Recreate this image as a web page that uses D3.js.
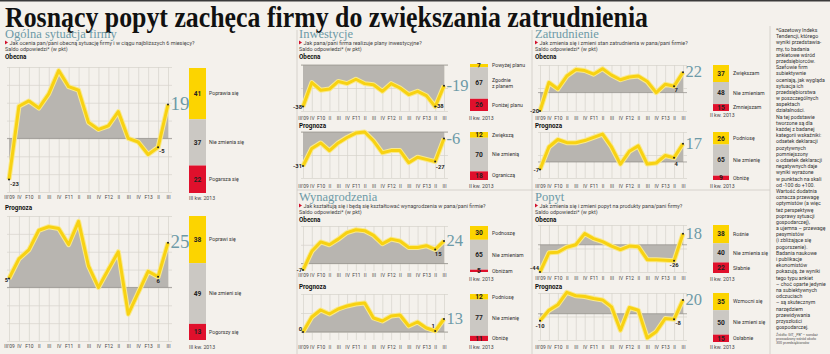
<!DOCTYPE html>
<html><head><meta charset="utf-8">
<script src="https://cdn.jsdelivr.net/npm/d3@7/dist/d3.min.js"></script>
<style>body{margin:0;background:#f4f1ec}svg{display:block}</style>
</head><body><svg id="c" width="830" height="354"></svg>
<script>
// ---------- DATA ----------
const quarters = ["III'09","IV","F10","II","III","IV","F11","II","III","IV","F12","II","III","IV","F13","II","III"];

const ogolnaObecna       = [-23,18,21,17,25,38,29,27,9,5,7,15,0,-2,-9,-5,19];
const ogolnaPrognoza     = [5,16,21,32,34,33,24,37,12,0,10,20,-15,-3,9,6,25];
const inwestycjeObecna   = [-38,-16,-23,-22,-15,-17,-13,-17,-18,-24,-17,-21,-27,-24,-28,-38,-19];
const inwestycjePrognoza = [-31,-15,-10,-17,-10,-5,-1,0,-8,-19,-17,-17,-28,-23,-25,-27,-6];
const wynagrodzeniaObecna   = [-7,13,23,20,26,33,36,35,30,21,26,24,17,17,19,15,24];
const wynagrodzeniaPrognoza = [0,15,22,18,23,26,28,29,14,11,16,17,6,10,4,1,13];
const zatrudnienieObecna    = [-20,11,4,18,25,24,20,26,19,14,17,18,12,0,9,7,22];
const zatrudnieniePrognoza  = [-7,14,21,18,18,20,23,26,14,-2,10,15,-2,-1,6,4,17];
const popytObecna   = [-44,-13,-12,-4,0,18,10,5,-2,-8,-2,-3,-24,-24,-25,-26,18];
const popytPrognoza = [-10,5,13,31,26,25,22,20,10,-24,9,5,-35,-26,-7,-8,20];

const ogolnaObecnaBar = [41,37,22];
const ogolnaObecnaLabels = ["Poprawia się","Nie zmienia się","Pogarsza się"];
const ogolnaPrognozaBar = [38,49,13];
const ogolnaPrognozaLabels = ["Poprawi się","Nie zmieni się","Pogorszy się"];
const inwestycjeObecnaBar = [7,67,26];
const inwestycjeObecnaLabels = ["Powyżej planu","Zgodnie\nz planem","Poniżej planu"];
const inwestycjePrognozaBar = [12,70,18];
const inwestycjePrognozaLabels = ["Zwiększą","Nie zmienią","Ograniczą"];
const wynagrodzeniaObecnaBar = [30,65,5];
const wynagrodzeniaObecnaLabels = ["Podnoszę","Nie zmieniam","Obniżam"];
const wynagrodzeniaPrognozaBar = [12,77,11];
const wynagrodzeniaPrognozaLabels = ["Podniosę","Nie zmienię","Obniżę"];
const zatrudnienieObecnaBar = [37,48,15];
const zatrudnienieObecnaLabels = ["Zwiększam","Nie zmieniam","Zmniejszam"];
const zatrudnieniePrognozaBar = [26,65,9];
const zatrudnieniePrognozaLabels = ["Podniosę","Nie zmienię","Obniżę"];
const popytObecnaBar = [38,40,22];
const popytObecnaLabels = ["Rośnie","Nie zmienia się","Słabnie"];
const popytPrognozaBar = [35,50,15];
const popytPrognozaLabels = ["Wzmocni się","Nie zmieni się","Osłabnie"];

const title = "Rosnący popyt zachęca firmy do zwiększania zatrudnienia";
const noteLines = ["*Gazetowy Indeks","Tendencji, którego","wyniki przedstawia-","my, to badania","ankietowe wśród","przedsiębiorców.","Szefowie firm","subiektywnie","oceniają, jak wygląda","sytuacja ich","przedsiębiorstwa","w poszczególnych","aspektach","działalności.","Na tej podstawie","tworzone są dla","każdej z badanej","kategorii wskaźniki:","odsetek deklaracji","pozytywnych","pomniejszony","o odsetek deklaracji","negatywnych daje","wyniki wyrażone","w punktach na skali","od -100 do +100.","Wartość dodatnia","oznacza przewagę","optymistów (a więc","też perspektywę","poprawy sytuacji","gospodarczej),","a ujemna – przewagę","pesymistów","(i zbliżające się","pogorszenie).","Badania naukowe","i publikacje","ekonomistów","pokazują, że wyniki","tego typu ankiet","– choć oparte jedynie","na subiektywnych","odczuciach","– są skutecznym","narzędziem","przewidywania","przyszłości","gospodarczej."];
const sourceLines = ["Źródło: GIT, „PB” – sondaż","prowadzony wśród około","300 przedsiębiorców"];

// ---------- STYLE ----------
const BG="#f4f1ec", TEAL="#6d9aa7", YEL="#f8d212", HALO="#f9e98c", AREA="#b8b5b0",
      GRID="#d6d2cc", ZERO="#8f8c87", BARY="#fcd400", BARG="#cbc8c3", BARR="#e0102c",
      SANS="Roboto, 'Open Sans', sans-serif", SERIF="'Liberation Serif', 'DejaVu Serif', serif";

const svg = d3.select("#c");
svg.append("rect").attr("width",830).attr("height",354).attr("fill",BG);
svg.append("rect").attr("width",830).attr("height",1.5).attr("fill","#3a3a3a");

svg.append("text").text(title).attr("x",5).attr("y",26.5)
  .attr("font-family",SERIF).attr("font-weight","bold").attr("font-size",29)
  .attr("textLength",643).attr("lengthAdjust","spacingAndGlyphs").attr("fill","#111");

[[297,30,354],[532,30,354],[770,26,354]].forEach(([x,a,b])=>
  svg.append("line").attr("x1",x).attr("x2",x).attr("y1",a).attr("y2",b).attr("stroke","#cfcbc5").attr("stroke-width",0.8));
[[297,532],[532,770]].forEach(([a,b])=>
  svg.append("line").attr("x1",a).attr("x2",b).attr("y1",190).attr("y2",190).attr("stroke","#cfcbc5").attr("stroke-width",0.8));

function header(x, ty, name, question){
  svg.append("text").text(name).attr("x",x).attr("y",ty).attr("font-family",SERIF)
    .attr("font-size",12.5).attr("fill",TEAL);
  svg.append("path").attr("d",`M${x},${ty+3}L${x+3},${ty+5}L${x},${ty+7}Z`).attr("fill","#d2102b");
  svg.append("text").text(question).attr("x",x+4.5).attr("y",ty+7.2).attr("font-family",SANS)
    .attr("font-size",5.4).attr("fill","#444");
  svg.append("text").text("Saldo odpowiedzi* (w pkt)").attr("x",x).attr("y",ty+13.2).attr("font-family",SANS)
    .attr("font-size",5.4).attr("fill","#444");
}
function sub(x,y,t){
  svg.append("text").text(t).attr("x",x).attr("y",y).attr("font-family",SANS)
    .attr("font-weight","bold").attr("font-size",6.3).attr("fill","#111");
}

function chart(c){
  const g = svg.append("g");
  const x = d3.scalePoint().domain(d3.range(c.values.length)).range([c.x0,c.x1]);
  const y = d3.scaleLinear().domain(c.domain).range([c.yBottom,c.yTop]);
  const vg = g.append("g").attr("transform",`translate(0,${c.yBottom})`)
    .call(d3.axisBottom(x).tickSize(-(c.yBottom-c.yTop)).tickFormat(""));
  vg.select(".domain").remove();
  vg.selectAll("line").attr("stroke",GRID).attr("stroke-width",0.7);
  const hg = g.append("g").attr("transform",`translate(${c.x0-2},0)`)
    .call(d3.axisLeft(y).tickValues(c.grid).tickSize(-(c.x1-c.x0+6)).tickFormat(""));
  hg.select(".domain").remove();
  hg.selectAll("line").attr("stroke",GRID).attr("stroke-width",0.7);
  g.append("path").datum(c.values)
    .attr("d", d3.area().x((d,i)=>x(i)).y0(y(0)).y1(d=>y(d)))
    .attr("fill",AREA);
  g.append("line").attr("x1",c.x0-2).attr("x2",c.x1+4).attr("y1",y(0)).attr("y2",y(0))
    .attr("stroke",ZERO).attr("stroke-width",0.7);
  const line = d3.line().x((d,i)=>x(i)).y(d=>y(d));
  g.append("path").datum(c.values).attr("d",line).attr("fill","none")
    .attr("stroke",HALO).attr("stroke-width",5).attr("stroke-linejoin","round");
  g.append("path").datum(c.values).attr("d",line).attr("fill","none")
    .attr("stroke",YEL).attr("stroke-width",3).attr("stroke-linejoin","round");
  const xa = g.append("g").attr("transform",`translate(0,${c.axisY})`)
    .call(d3.axisBottom(x).tickSize(0).tickPadding(0).tickFormat(i=>quarters[i]));
  xa.select(".domain").remove();
  xa.selectAll("text").attr("dy",0).attr("font-family",SANS).attr("font-size",4.9).attr("fill","#444");
  const n = c.values.length;
  [0,n-2,n-1].forEach(i=>g.append("circle").attr("cx",x(i)).attr("cy",y(c.values[i])).attr("r",1).attr("fill","#222"));
  const fl = c.first;
  g.append("text").text(c.values[0]).attr("x",x(0)+fl[0]).attr("y",y(c.values[0])+fl[1])
    .attr("text-anchor",fl[2]).attr("font-family",SANS).attr("font-weight","bold").attr("font-size",5.8).attr("fill","#222");
  const pl = c.prev;
  g.append("text").text(c.values[n-2]).attr("x",x(n-2)+pl[0]).attr("y",y(c.values[n-2])+pl[1])
    .attr("text-anchor",pl[2]).attr("font-family",SANS).attr("font-weight","bold").attr("font-size",5.8).attr("fill","#222");
  g.append("text").text(c.values[n-1]).attr("x",x(n-1)+2.5).attr("y",y(c.values[n-1])+c.big*0.3)
    .attr("font-family",SERIF).attr("font-size",c.big).attr("fill",TEAL);
  const by = d3.scaleLinear().domain([0,100]).range([c.bar[0],c.bar[1]]);
  let cum = 0;
  const cols=[BARY,BARG,BARR];
  c.barVals.forEach((v,k)=>{
    const y0 = by(cum), y1 = by(cum+v); cum+=v;
    g.append("rect").attr("x",c.barX).attr("y",y0).attr("width",c.barW).attr("height",y1-y0).attr("fill",cols[k]);
    const mid=(y0+y1)/2;
    g.append("text").text(v).attr("x",c.barX+c.barW/2).attr("y",mid+2.3).attr("text-anchor","middle")
      .attr("font-family",SANS).attr("font-weight","bold").attr("font-size",6.6).attr("fill","#222");
    const parts = c.barLabels[k].split("\n");
    const t = g.append("text").attr("font-family",SANS).attr("font-size",5.2).attr("fill","#333");
    parts.forEach((p,j)=>t.append("tspan").text(p).attr("x",c.labelX).attr("y",mid+1.8+(j-(parts.length-1)/2)*6));
  });
  g.append("text").text(c.date).attr("x",c.dateX).attr("y",c.dateY).attr("font-family",SANS)
    .attr("font-size",5.2).attr("fill","#444");
}

const L = {x0:9,x1:168,barX:189,barW:17,labelX:209,dateX:189,date:"III kw. 2013",big:19};
const M = {x0:303,x1:444,barX:470,barW:18,labelX:492,dateX:469,date:"II kw. 2013",big:16.5};
const R = {x0:540,x1:683,barX:713,barW:16,labelX:733,dateX:710,date:"II kw. 2013",big:16.5};
const g10 = d3.range(-30,41,10);

header(5,37.5,"Ogólna sytuacja firmy","Jak ocenia pan/pani obecną sytuację firmy i w ciągu najbliższych 6 miesięcy?");
sub(5,59,"Obecna"); sub(5,209.5,"Prognoza");
chart({...L,values:ogolnaObecna,domain:[-30,40],grid:g10,yTop:67,yBottom:192,axisY:198.5,
  bar:[68,193],barVals:ogolnaObecnaBar,barLabels:ogolnaObecnaLabels,dateY:200,
  first:[1,6,"start"],prev:[1,6,"start"]});
chart({...L,values:ogolnaPrognoza,domain:[-30,40],grid:g10,yTop:216,yBottom:341,axisY:347.5,
  bar:[216,340],barVals:ogolnaPrognozaBar,barLabels:ogolnaPrognozaLabels,dateY:349,
  first:[-1,3,"end"],prev:[0,6,"middle"]});

header(299,37.5,"Inwestycje","Jak pana/pani firma realizuje plany inwestycyjne?");
sub(299,59,"Obecna"); sub(299,128,"Prognoza");
chart({...M,values:inwestycjeObecna,domain:[-42,0],grid:[-42,-21,0],yTop:65,yBottom:111,axisY:120,
  bar:[64,111],barVals:inwestycjeObecnaBar,barLabels:inwestycjeObecnaLabels,dateY:120,
  first:[-1,2,"end"],prev:[4,1,"middle"]});
chart({...M,values:inwestycjePrognoza,domain:[-42,0],grid:[-42,-21,0],yTop:132,yBottom:178,axisY:188,
  bar:[132,180],barVals:inwestycjePrognozaBar,barLabels:inwestycjePrognozaLabels,dateY:188,
  first:[-1,2,"end"],prev:[5,7,"middle"]});

header(299,200.5,"Wynagrodzenia","Jak kształtują się i będą się kształtować wynagrodzenia w pana/pani firmie?");
sub(299,221.5,"Obecna"); sub(299,288.5,"Prognoza");
chart({...M,values:wynagrodzeniaObecna,domain:[-8,40],grid:[0,20,40],yTop:226,yBottom:271,axisY:276.5,
  bar:[226,272],barVals:wynagrodzeniaObecnaBar,barLabels:wynagrodzeniaObecnaLabels,dateY:281,
  first:[-1,2,"end"],prev:[3,7,"middle"]});
chart({...M,values:wynagrodzeniaPrognoza,domain:[-8,38],grid:[0,19,38],yTop:294,yBottom:340,axisY:349,
  bar:[294,341],barVals:wynagrodzeniaPrognozaBar,barLabels:wynagrodzeniaPrognozaLabels,dateY:349,
  first:[-1,-1,"end"],prev:[-2,-3,"middle"]});

header(535,37.5,"Zatrudnienie","Jak zmienia się i zmieni stan zatrudnienia w pana/pani firmie?");
sub(535,59,"Obecna"); sub(535,127.5,"Prognoza");
chart({...R,values:zatrudnienieObecna,domain:[-20,30],grid:[-20,5,30],yTop:65,yBottom:111,axisY:120,
  bar:[65,111],barVals:zatrudnienieObecnaBar,barLabels:zatrudnienieObecnaLabels,dateY:117,
  first:[-1,2,"end"],prev:[2,6,"middle"]});
chart({...R,values:zatrudnieniePrognoza,domain:[-15,28],grid:[-15,6.5,28],yTop:132,yBottom:178,axisY:188,
  bar:[132,180],barVals:zatrudnieniePrognozaBar,barLabels:zatrudnieniePrognozaLabels,dateY:188,
  first:[-1,3,"end"],prev:[2,8,"middle"]});

header(535,200.5,"Popyt","Jak zmienia się i zmieni popyt na produkty pana/pani firmy?");
sub(535,221.5,"Obecna"); sub(535,288.5,"Prognoza");
chart({...R,values:popytObecna,domain:[-44,32],grid:[-44,-6,32],yTop:225,yBottom:272,axisY:280,
  bar:[225,273],barVals:popytObecnaBar,barLabels:popytObecnaLabels,dateY:281,
  first:[-1,-2,"end"],prev:[0,6,"middle"]});
chart({...R,values:popytPrognoza,domain:[-38,30],grid:[-38,-4,30],yTop:293,yBottom:340,axisY:349,
  bar:[293,342],barVals:popytPrognozaBar,barLabels:popytPrognozaLabels,dateY:349,
  first:[0,7,"middle"],prev:[4,6,"middle"]});

const note = svg.append("text").attr("font-family","'Liberation Sans Narrow', Roboto, sans-serif")
  .attr("font-size",5.2).attr("fill","#333");
noteLines.forEach((l,i)=>note.append("tspan").text(l).attr("x",776).attr("y",32+i*6.19));
const src = svg.append("text").attr("font-family","'Liberation Sans Narrow', Roboto, sans-serif")
  .attr("font-size",3.6).attr("fill","#555");
sourceLines.forEach((l,i)=>src.append("tspan").text(l).attr("x",776).attr("y",336+i*4));
</script></body></html>
